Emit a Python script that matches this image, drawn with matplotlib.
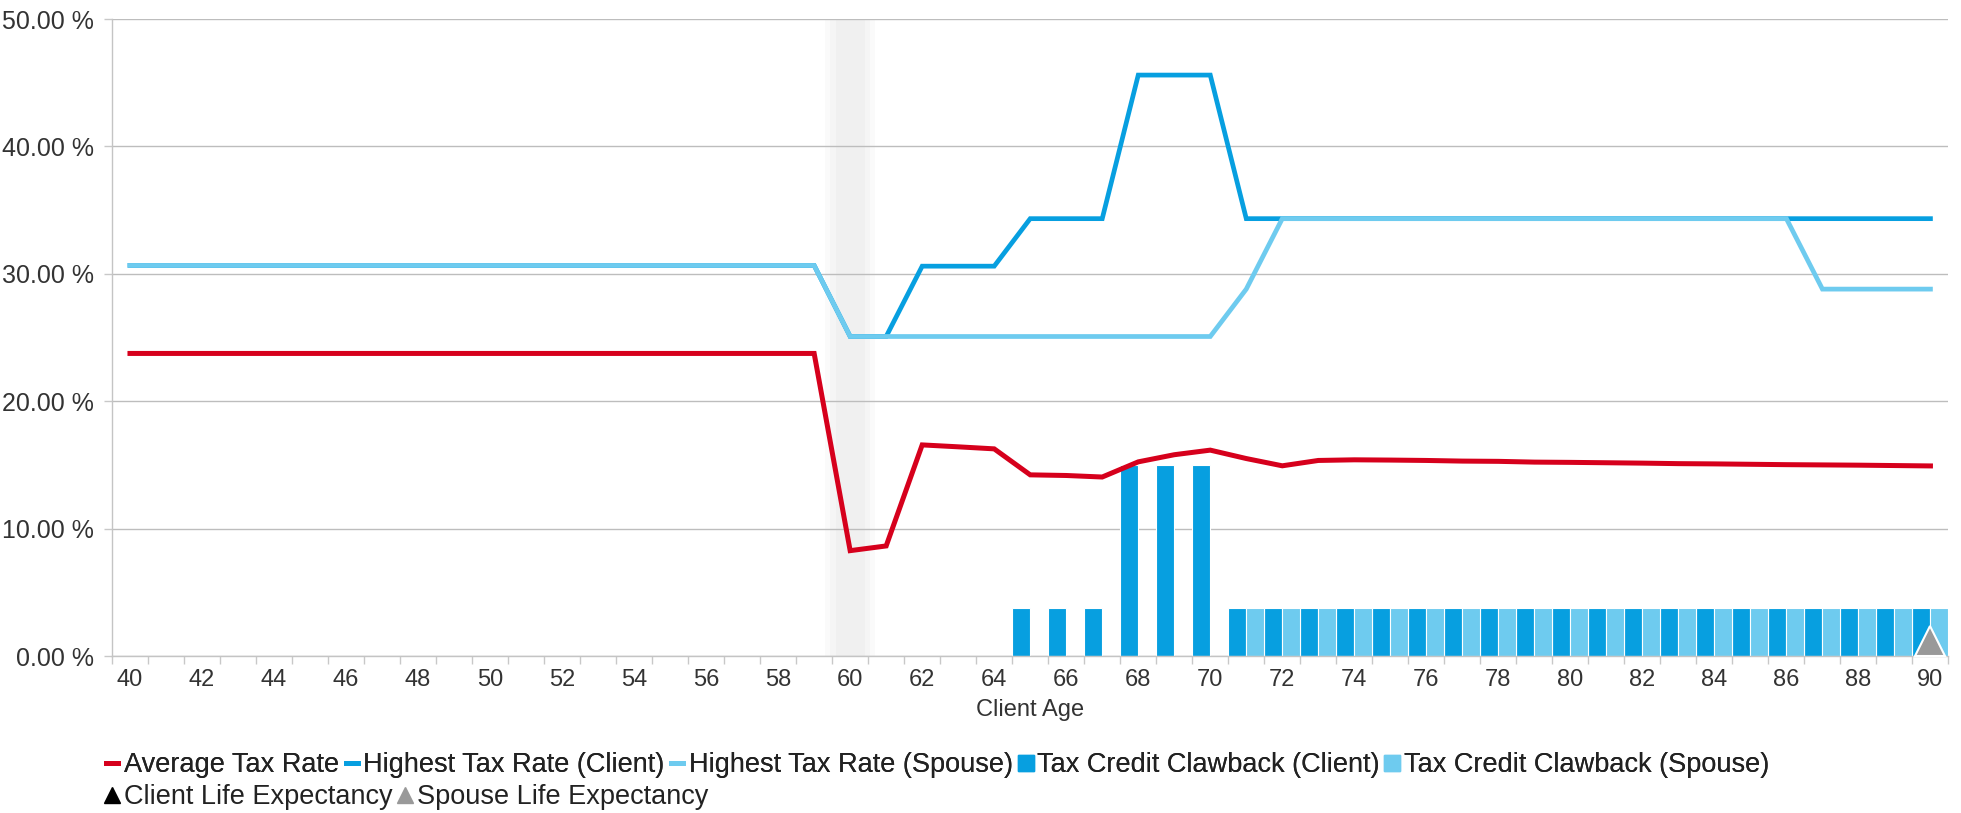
import matplotlib.pyplot as plt
import numpy as np
from matplotlib.lines import Line2D

plt.rcParams['font.family'] = ['Liberation Sans', 'DejaVu Sans']

# client age 40..90
ages = np.arange(40, 91)

avg_rate = [23.75, 23.75, 23.75, 23.75, 23.75, 23.75, 23.75, 23.75, 23.75, 23.75,
            23.75, 23.75, 23.75, 23.75, 23.75, 23.75, 23.75, 23.75, 23.75, 23.75,
            8.27, 8.64, 16.57, 16.42, 16.26, 14.22, 14.17, 14.05, 15.24, 15.80,
            16.16, 15.50, 14.93, 15.35, 15.40, 15.38, 15.35, 15.30, 15.28, 15.22,
            15.20, 15.17, 15.14, 15.10, 15.08, 15.05, 15.02, 15.00, 14.98, 14.95,
            14.92]
high_client = [30.66, 30.66, 30.66, 30.66, 30.66, 30.66, 30.66, 30.66, 30.66, 30.66,
               30.66, 30.66, 30.66, 30.66, 30.66, 30.66, 30.66, 30.66, 30.66, 30.66,
               25.08, 25.08, 30.60, 30.60, 30.60, 34.33, 34.33, 34.33, 45.60, 45.60,
               45.60, 34.33, 34.33, 34.33, 34.33, 34.33, 34.33, 34.33, 34.33, 34.33,
               34.33, 34.33, 34.33, 34.33, 34.33, 34.33, 34.33, 34.33, 34.33, 34.33,
               34.33]
high_spouse = [30.66, 30.66, 30.66, 30.66, 30.66, 30.66, 30.66, 30.66, 30.66, 30.66,
               30.66, 30.66, 30.66, 30.66, 30.66, 30.66, 30.66, 30.66, 30.66, 30.66,
               25.08, 25.08, 25.08, 25.08, 25.08, 25.08, 25.08, 25.08, 25.08, 25.08,
               25.08, 28.80, 34.33, 34.33, 34.33, 34.33, 34.33, 34.33, 34.33, 34.33,
               34.33, 34.33, 34.33, 34.33, 34.33, 34.33, 34.33, 28.80, 28.80, 28.80,
               28.80]
clawback_client = [0, 0, 0, 0, 0, 0, 0, 0, 0, 0,
                   0, 0, 0, 0, 0, 0, 0, 0, 0, 0,
                   0, 0, 0, 0, 0, 3.8, 3.8, 3.8, 15.0, 15.0,
                   15.0, 3.8, 3.8, 3.8, 3.8, 3.8, 3.8, 3.8, 3.8, 3.8,
                   3.8, 3.8, 3.8, 3.8, 3.8, 3.8, 3.8, 3.8, 3.8, 3.8,
                   3.8]
clawback_spouse = [0, 0, 0, 0, 0, 0, 0, 0, 0, 0,
                   0, 0, 0, 0, 0, 0, 0, 0, 0, 0,
                   0, 0, 0, 0, 0, 0, 0, 0, 0, 0,
                   0, 3.8, 3.8, 3.8, 3.8, 3.8, 3.8, 3.8, 3.8, 3.8,
                   3.8, 3.8, 3.8, 3.8, 3.8, 3.8, 3.8, 3.8, 3.8, 3.8,
                   3.8]
current_age = 60
spouse_life_exp = (90, 1.2)

RED = '#d6001c'
BLUE = '#079fe0'
LIGHT = '#6ecbef'
GREY = '#999999'

fig = plt.figure(figsize=(19.61, 8.13), dpi=100)
ax = fig.add_axes([0.0571, 0.1931, 0.9365, 0.7835])

# soft shaded current-age band
for w, a in [(0.7, 0.25), (0.55, 0.35), (0.4, 0.55)]:
    ax.axvspan(current_age - w, current_age + w, color='#ececec', alpha=a, lw=0, zorder=0)

cc = np.array(clawback_client)
cs = np.array(clawback_spouse)
mc = cc > 0
ms = cs > 0
ax.bar(ages[mc] - 0.25, cc[mc], width=0.5, color=BLUE, edgecolor='white', linewidth=0.8, zorder=2)
ax.bar(ages[ms] + 0.25, cs[ms], width=0.5, color=LIGHT, edgecolor='white', linewidth=0.8, zorder=2)

ax.plot(ages, avg_rate, color=RED, lw=3.6, zorder=4, solid_joinstyle='miter')
ax.plot(ages, high_client, color=BLUE, lw=3.4, zorder=4, solid_joinstyle='miter')
ax.plot(ages, high_spouse, color=LIGHT, lw=3.4, zorder=5, solid_joinstyle='miter')

ax.plot([spouse_life_exp[0]], [spouse_life_exp[1]], marker='^', ms=22, color=GREY,
        mec='white', mew=1.5, ls='none', zorder=6, clip_on=False)

ax.set_xlim(39.5, 90.5)
ax.set_ylim(0, 50)
ax.set_yticks(np.arange(0, 51, 10))
ax.set_yticklabels([f'{v:.2f} %' for v in np.arange(0, 51, 10)], fontsize=18, color='#333333')
ax.set_xticks(np.arange(40, 91, 2))
ax.set_xticklabels([str(a) for a in range(40, 91, 2)], fontsize=17, color='#333333')
ax.set_xticks(np.arange(39.5, 91, 1), minor=True)
ax.tick_params(axis='x', which='major', length=0, pad=9)
ax.tick_params(axis='x', which='minor', length=6, color='#c8c8c8', width=1)
ax.tick_params(axis='y', length=6, color='#c8c8c8', width=1, pad=7)
ax.set_xlabel('Client Age', fontsize=17, color='#333333', labelpad=6)

ax.yaxis.grid(True, color='#bdbdbd', lw=1)
ax.set_axisbelow(True)
for s in ['top', 'right']:
    ax.spines[s].set_visible(False)
for s in ['left', 'bottom']:
    ax.spines[s].set_color('#c4c4c4')
    ax.spines[s].set_linewidth(1)

h1 = [Line2D([0], [0], color=RED, lw=3.5),
      Line2D([0], [0], color=BLUE, lw=3.5),
      Line2D([0], [0], color=LIGHT, lw=3.5),
      Line2D([], [], marker='s', ls='none', color=BLUE, ms=11),
      Line2D([], [], marker='s', ls='none', color=LIGHT, ms=11)]
l1 = ['Average Tax Rate', 'Highest Tax Rate (Client)', 'Highest Tax Rate (Spouse)',
      'Tax Credit Clawback (Client)', 'Tax Credit Clawback (Spouse)']
h2 = [Line2D([], [], marker='^', ls='none', color='black', ms=12),
      Line2D([], [], marker='^', ls='none', color=GREY, ms=12)]
l2 = ['Client Life Expectancy', 'Spouse Life Expectancy']

kw = dict(frameon=False, fontsize=19.5, handlelength=0.45, handletextpad=0.2,
          columnspacing=0.25, borderpad=0, borderaxespad=0, labelcolor='#222222')
leg1 = fig.legend(h1, l1, loc='center left', bbox_to_anchor=(106 / 1961, 1 - 765 / 813), ncol=5, **kw)
fig.add_artist(leg1)
fig.legend(h2, l2, loc='center left', bbox_to_anchor=(106 / 1961, 1 - 797 / 813), ncol=2, **kw)

fig.savefig('out.png', dpi=100)
